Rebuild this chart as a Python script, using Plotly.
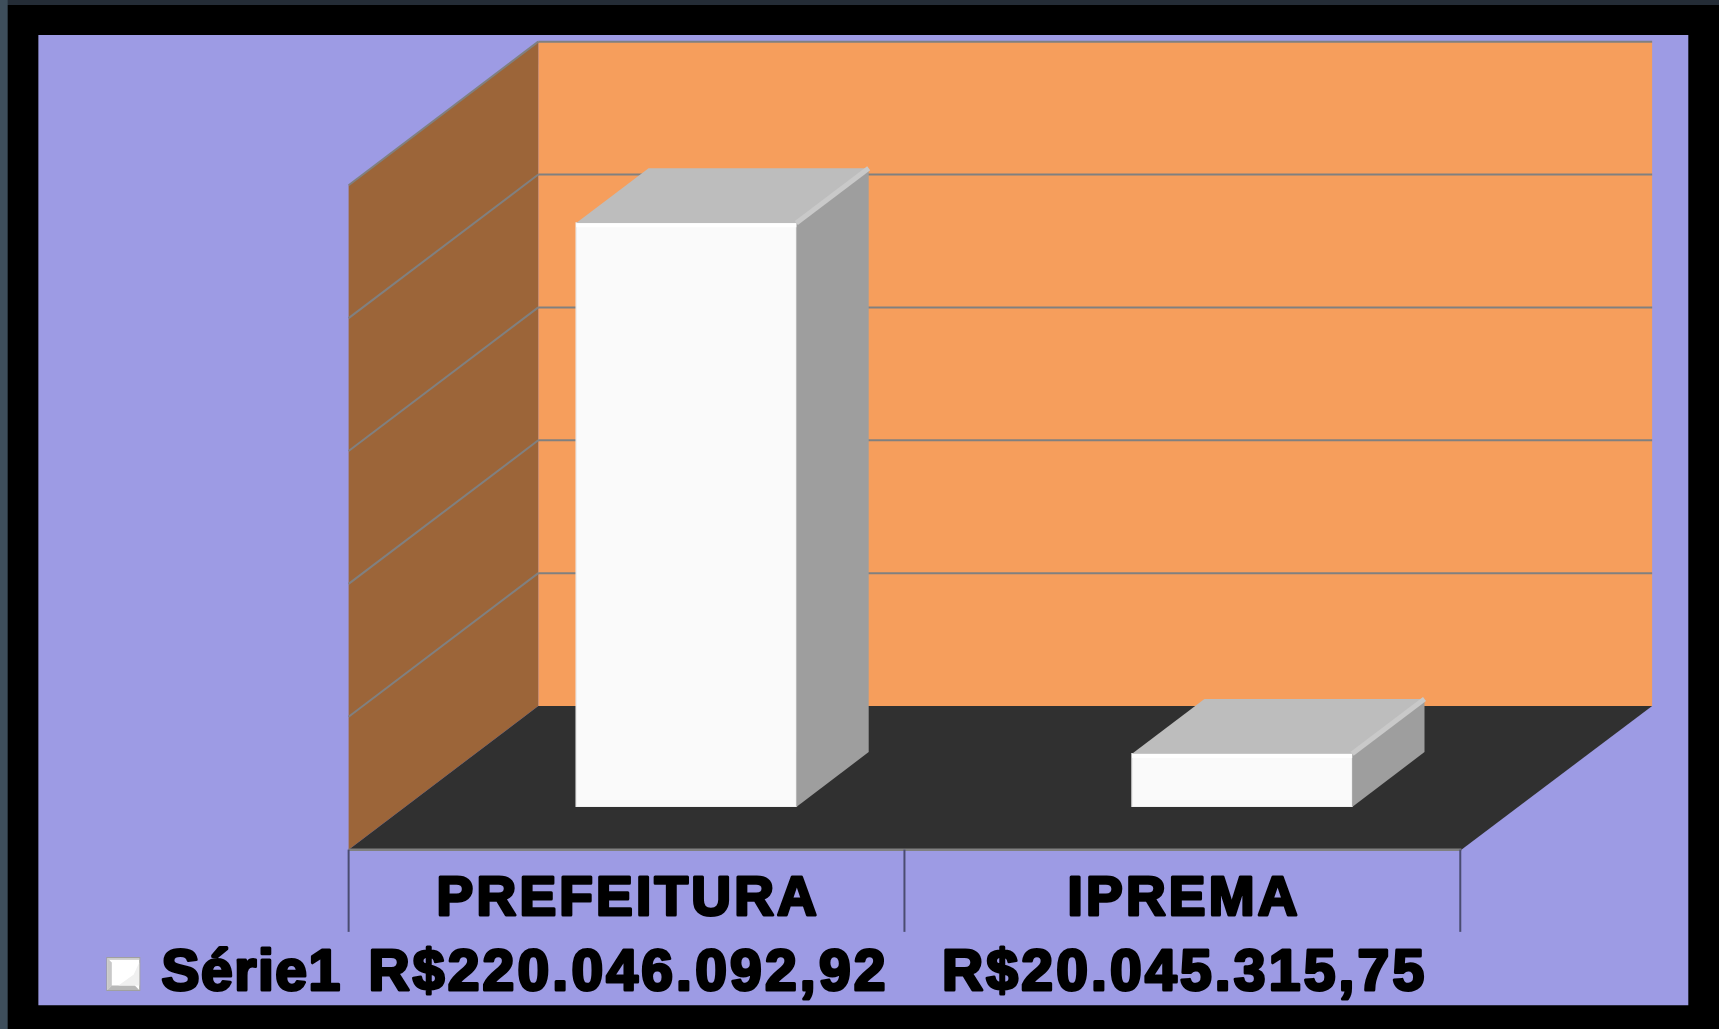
import plotly.graph_objects as go

# ---- data ----
categories = ["PREFEITURA", "IPREMA"]
values = [220046092.92, 20045315.75]
series_name = "Série1"
axis_ticks = [0, 50e6, 100e6, 150e6, 200e6, 250e6]
axis_max = 250e6

W, H = 1719, 1029
S = 1719 / 1568  # measurements below are taken on the 1568-wide view


def px(x):
    return x * S / W


def py(y):
    return 1 - y * S / H


PERI = "#9D9BE4"
ORANGE = "#F69E5C"
BROWN = "#9C6539"
FLOOR = "#303030"
GRID = "#808080"
FRONT = "#FAFAFA"
TOP = "#BDBDBD"
SIDE = "#9E9E9E"
RIDGE = "#C9C9C9"
TICK = "#4A4C70"
HEAVY = "'Liberation Sans', Arial, sans-serif"

shapes = []


def poly(points, fill, line=None, lw=0, layer="below"):
    path = "M" + "L".join(f"{px(x)},{py(y)}" for x, y in points) + "Z"
    shapes.append(dict(type="path", xref="paper", yref="paper", path=path, fillcolor=fill,
                       line=dict(color=line or fill, width=lw), layer=layer))


def seg(x0, y0, x1, y1, color=GRID, lw=2, layer="below"):
    shapes.append(dict(type="line", xref="paper", yref="paper", x0=px(x0), y0=py(y0), x1=px(x1), y1=py(y1),
                       line=dict(color=color, width=lw), layer=layer))


# page frame
poly([(0, 0), (1568, 0), (1568, 939), (0, 939)], "#000000")
poly([(0, 0), (1568, 0), (1568, 4.5), (0, 4.5)], "#242C36")
poly([(0, 0), (7, 0), (7, 939), (0, 939)], "#3E4E5B")
poly([(35, 32), (1540, 32), (1540, 917), (35, 917)], PERI)

# walls and floor
poly([(491, 38), (1507, 38), (1507, 644), (491, 644)], ORANGE)
poly([(318, 169), (491, 38), (491, 644), (318, 775)], BROWN)
poly([(318, 775), (491, 644), (1507, 644), (1333, 775)], FLOOR)

# gridlines on the walls, from the axis ticks
for t in axis_ticks:
    d = t / axis_max * 606
    if t > 0:
        seg(491, 644 - d, 1507, 644 - d)
        seg(318, 775 - d, 491, 644 - d)
seg(318, 775, 1333, 775, GRID, 2.5)
for x in (318, 825, 1332):
    seg(x, 775, x, 850, TICK, 2)

# legend swatch with bevel
poly([(97, 873), (128, 873), (128, 904), (97, 904)], "#A0A0A0")
poly([(98, 874), (127, 874), (127, 903), (98, 903)], "#FFFFFF")
poly([(98, 874), (102, 878), (102, 899), (98, 903)], "#C8C8C8")
poly([(98, 903), (102, 899), (123, 899), (127, 903)], "#B8B8B8")
poly([(108, 899), (122, 889), (127, 878), (127, 899)], "#F0F0F0")
poly([(98, 874), (127, 874), (127, 875.5), (98, 875.5)], "#C4C4C4")

fig = go.Figure()

# depth of a bar in data units
dx = 66 / 507
dy = 50 / 605 * axis_max
half = 0.198
edge = axis_max / 605 * 2.0  # bevel height

for i, v in enumerate(values):
    l, r = i - half, i + half
    fig.add_trace(go.Scatter(x=[r, r + dx, r + dx, r, r], y=[0, dy, v + dy, v, 0], mode="lines",
                             fill="toself", fillcolor=SIDE, line=dict(color=SIDE, width=0),
                             showlegend=False, hoverinfo="skip"))
    fig.add_trace(go.Scatter(x=[l, r, r + dx, l + dx, l], y=[v, v, v + dy, v + dy, v], mode="lines",
                             fill="toself", fillcolor=TOP, line=dict(color=TOP, width=0),
                             showlegend=False, hoverinfo="skip"))
    fig.add_trace(go.Scatter(x=[r, r + dx], y=[v, v + dy], mode="lines", line=dict(color=RIDGE, width=5),
                             showlegend=False, hoverinfo="skip"))

fig.add_trace(go.Bar(x=[0, 1], y=values, width=2 * half, name=series_name, showlegend=False,
                     marker=dict(color=FRONT, line=dict(color="#EDEDED", width=1.5)),
                     hovertemplate="%{y}<extra></extra>"))
for i, v in enumerate(values):
    fig.add_trace(go.Scatter(x=[i - half, i + half], y=[v - edge, v - edge], mode="lines",
                             line=dict(color="#FFFFFF", width=4), showlegend=False, hoverinfo="skip"))


def brl(v):
    s = f"{v:,.2f}".replace(",", "X").replace(".", ",").replace("X", ".")
    return "R$" + s


label_font = dict(family=HEAVY, size=55, color="#000000", weight=700)
value_font = dict(family=HEAVY, size=57, color="#000000", weight=700)
annotations = [
    dict(xref="paper", yref="paper", x=px(150), y=py(885), xanchor="left", yanchor="middle",
         text=series_name, showarrow=False, font=value_font),
]
for i, v in enumerate(values):
    annotations.append(dict(xref="paper", yref="paper", x=px(573 + i * 507), y=py(885), xanchor="center",
                            yanchor="middle", text=brl(v), showarrow=False, font=value_font))

fig.update_layout(
    width=W, height=H, autosize=False,
    margin=dict(l=0, r=0, t=0, b=0),
    paper_bgcolor="#000000", plot_bgcolor="rgba(0,0,0,0)",
    shapes=shapes, annotations=annotations, showlegend=False, bargap=0.6,
    xaxis=dict(domain=[px(372.5), px(1386.5)], range=[-0.5, 1.5], tickmode="array", tickvals=[0, 1],
               ticktext=categories, ticks="", showgrid=False, zeroline=False, showline=False,
               ticklabelshift=-58, ticklabelstandoff=52, tickfont=label_font, tickangle=0),
    yaxis=dict(domain=[py(736), py(131)], range=[0, axis_max], showticklabels=False, ticks="",
               showgrid=False, zeroline=False, showline=False),
)

heavy_text = """
document.body.style.margin='0';document.body.style.background='#000';
document.documentElement.style.overflow='hidden';
document.querySelectorAll('.xtick text, .annotation text').forEach(function(t){
  t.style.stroke='#000'; t.style.strokeWidth='3px'; t.style.strokeLinejoin='round';
  t.style.letterSpacing = t.textContent.indexOf('S')===0 ? '1.5px' : '3.2px';
});
"""
fig.write_html("out.html", config={"displayModeBar": False}, post_script=heavy_text)
